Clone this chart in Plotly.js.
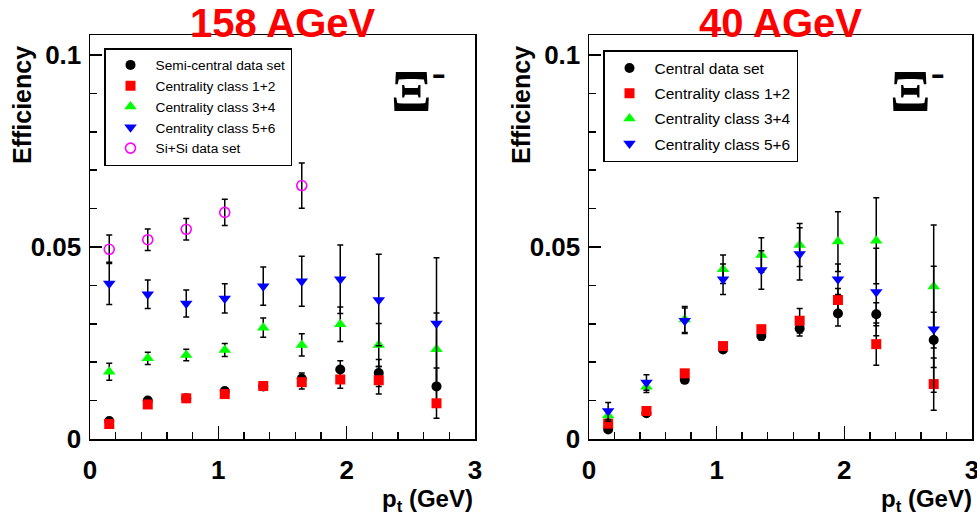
<!DOCTYPE html>
<html>
<head>
<meta charset="utf-8">
<script src="https://cdn.plot.ly/plotly-3.0.1.min.js"></script>
<style>html,body{margin:0;padding:0;background:#fff;}</style>
</head>
<body>
<div id="chart" style="width:977px;height:524px;"></div>
<script>
// ---- data ----
const pt = [0.15, 0.45, 0.75, 1.05, 1.35, 1.65, 1.95, 2.25, 2.7];
const ptSiSi = [0.15, 0.45, 0.75, 1.05, 1.65];

// 158 AGeV
const semiCentral158 = [0.0047, 0.0100, 0.0106, 0.0125, 0.0137, 0.0157, 0.0181, 0.0172, 0.0137];
const semiCentral158Err = [0.0005, 0.0006, 0.0006, 0.0007, 0.0008, 0.0015, 0.0023, 0.0035, 0.0048];
const cls12_158 = [0.0039, 0.0090, 0.0106, 0.0117, 0.0138, 0.0148, 0.0155, 0.0153, 0.0093];
const cls12_158Err = [0.0004, 0.0005, 0.0005, 0.0006, 0.0007, 0.0018, 0.0023, 0.0036, 0.0039];
const cls34_158 = [0.0175, 0.0210, 0.0219, 0.0232, 0.0290, 0.0245, 0.0299, 0.0245, 0.0234];
const cls34_158Err = [0.0022, 0.0016, 0.0015, 0.0017, 0.0025, 0.0029, 0.0045, 0.0056, 0.0094];
const cls56_158 = [0.0405, 0.0377, 0.0353, 0.0366, 0.0398, 0.0411, 0.0416, 0.0362, 0.0301];
const cls56_158Err = [0.0055, 0.0037, 0.0035, 0.0038, 0.0050, 0.0065, 0.0089, 0.0119, 0.0171];
const siSi158 = [0.0494, 0.0519, 0.0546, 0.0590, 0.0660];
const siSi158Err = [0.0037, 0.0028, 0.0028, 0.0034, 0.0059];

// 40 AGeV
const central40 = [0.0025, 0.0067, 0.0154, 0.0233, 0.0268, 0.0288, 0.0327, 0.0325, 0.0258];
const central40Err = [0.0005, 0.0006, 0.0008, 0.0007, 0.0010, 0.0020, 0.0033, 0.0030, 0.0072];
const cls12_40 = [0.0040, 0.0073, 0.0171, 0.0242, 0.0286, 0.0308, 0.0362, 0.0247, 0.0143];
const cls12_40Err = [0.0005, 0.0005, 0.0007, 0.0006, 0.0008, 0.0032, 0.0030, 0.0055, 0.0068];
const cls34_40 = [0.0061, 0.0136, 0.0311, 0.0442, 0.0479, 0.0505, 0.0514, 0.0516, 0.0397];
const cls34_40Err = [0.0015, 0.0015, 0.0034, 0.0037, 0.0045, 0.0056, 0.0078, 0.0112, 0.0160];
const cls56_40 = [0.0073, 0.0147, 0.0308, 0.0416, 0.0440, 0.0482, 0.0416, 0.0383, 0.0286];
const cls56_40Err = [0.0022, 0.0020, 0.0033, 0.0040, 0.0050, 0.0068, 0.0040, 0.0114, 0.0164];

const names158 = ["Semi-central data set", "Centrality class 1+2", "Centrality class 3+4", "Centrality class 5+6", "Si+Si data set"];
const names40 = ["Central data set", "Centrality class 1+2", "Centrality class 3+4", "Centrality class 5+6"];
const panelTitles = ["158 AGeV", "40 AGeV"];

// ---- styles ----
const SANS = "Liberation Sans, Arial, Helvetica, sans-serif";
const styles = [
  {symbol: 'circle', color: '#000000', size: 10},
  {symbol: 'square', color: '#ff0000', size: 10},
  {symbol: 'triangle-up', color: '#00ff00', size: 11},
  {symbol: 'triangle-down', color: '#0000ff', size: 11}
];
const openStyle = {symbol: 'circle-open', color: '#ff00ff', size: 10};

function tr(x, y, err, name, st, xa, ya, leg, grp) {
  return {
    type: 'scatter', mode: 'markers', x: x, y: y, name: name,
    xaxis: xa, yaxis: ya, legend: leg, legendgroup: grp,
    marker: {symbol: st.symbol, color: st.color, size: st.size,
             line: {width: st.symbol === 'circle-open' ? 1.6 : 0, color: st.color}},
    error_y: {type: 'data', array: err, visible: true, color: '#000000', thickness: 1.5, width: 3}
  };
}

const data = [
  tr(pt, semiCentral158, semiCentral158Err, names158[0], styles[0], 'x', 'y', 'legend', 'a1'),
  tr(pt, cls12_158, cls12_158Err, names158[1], styles[1], 'x', 'y', 'legend', 'a2'),
  tr(pt, cls34_158, cls34_158Err, names158[2], styles[2], 'x', 'y', 'legend', 'a3'),
  tr(pt, cls56_158, cls56_158Err, names158[3], styles[3], 'x', 'y', 'legend', 'a4'),
  tr(ptSiSi, siSi158, siSi158Err, names158[4], openStyle, 'x', 'y', 'legend', 'a5'),
  tr(pt, central40, central40Err, names40[0], styles[0], 'x2', 'y2', 'legend2', 'b1'),
  tr(pt, cls12_40, cls12_40Err, names40[1], styles[1], 'x2', 'y2', 'legend2', 'b2'),
  tr(pt, cls34_40, cls34_40Err, names40[2], styles[2], 'x2', 'y2', 'legend2', 'b3'),
  tr(pt, cls56_40, cls56_40Err, names40[3], styles[3], 'x2', 'y2', 'legend2', 'b4')
];

const W = 977, H = 524;
const px = v => v / W;
const py = v => 1 - v / H;

function xax(l, r, anchor) {
  return {
    domain: [px(l), px(r)], range: [0, 3], anchor: anchor,
    showgrid: false, zeroline: false, showline: true, linecolor: '#000', linewidth: 1.5, mirror: true,
    ticks: 'inside', ticklen: 13, tickwidth: 1.5, tickcolor: '#000', tick0: 0, dtick: 1,
    minor: {ticks: 'inside', ticklen: 7, tickwidth: 1.5, tickcolor: '#000', dtick: 0.2, showgrid: false},
    tickfont: {family: SANS, size: 26, weight: 'bold', color: '#000'},
    ticklabelstandoff: 7, ticklabeloverflow: 'allow', fixedrange: true
  };
}
function yax(anchor) {
  return {
    domain: [py(439), py(35)], range: [0, 0.1052], anchor: anchor,
    showgrid: false, zeroline: false, showline: true, linecolor: '#000', linewidth: 1.5, mirror: true,
    ticks: 'inside', ticklen: 12, tickwidth: 1.5, tickcolor: '#000', tick0: 0, dtick: 0.05,
    minor: {ticks: 'inside', ticklen: 7, tickwidth: 1.5, tickcolor: '#000', dtick: 0.01, showgrid: false},
    tickfont: {family: SANS, size: 26, weight: 'bold', color: '#000'},
    ticklabelstandoff: 2, ticklabeloverflow: 'allow', fixedrange: true
  };
}

function leg(x, top, size, gap) {
  return {
    x: px(x), y: py(top), xanchor: 'left', yanchor: 'top', xref: 'paper', yref: 'paper',
    bgcolor: '#fff', bordercolor: '#000', borderwidth: 1.5,
    font: {family: SANS, size: size, color: '#000'},
    itemwidth: 40, traceorder: 'grouped', tracegroupgap: gap, itemclick: false, itemdoubleclick: false
  };
}

const ann = [];
function addPanelText(cx, right, effX, xiX, title) {
  ann.push({text: title, x: px(cx), y: py(23), xref: 'paper', yref: 'paper', xanchor: 'center', yanchor: 'middle',
            showarrow: false, font: {family: SANS, size: 40, weight: 'bold', color: '#ff0000'}});
  ann.push({text: 'Efficiency', textangle: -90, x: px(effX), y: py(105), xref: 'paper', yref: 'paper',
            xanchor: 'center', yanchor: 'middle', showarrow: false,
            font: {family: SANS, size: 25, weight: 'bold', color: '#000'}});
  ann.push({text: 'p<sub>t</sub> (GeV)', x: px(right), y: py(500), xref: 'paper', yref: 'paper',
            xanchor: 'right', yanchor: 'middle', showarrow: false,
            font: {family: SANS, size: 24, weight: 'bold', color: '#000'}});
  ann.push({text: 'Ξ<sup>-</sup>', x: px(xiX), y: py(86), xref: 'paper', yref: 'paper',
            xanchor: 'left', yanchor: 'middle', showarrow: false,
            font: {family: 'Liberation Serif, DejaVu Serif, serif', size: 60, weight: 'bold', color: '#000'}});
}
addPanelText(282.5, 475, 22, 389, panelTitles[0]);
addPanelText(780.5, 974, 521, 888, panelTitles[1]);

const layout = {
  width: W, height: H,
  margin: {l: 0, r: 0, t: 0, b: 0},
  paper_bgcolor: '#fff', plot_bgcolor: '#fff',
  font: {family: SANS, color: '#000'},
  showlegend: true,
  xaxis: xax(90, 475, 'y'),
  yaxis: yax('x'),
  xaxis2: xax(589, 972, 'y2'),
  yaxis2: yax('x2'),
  legend: leg(104, 48, 13.7, 0),
  legend2: leg(603, 50, 15.5, 2),
  annotations: ann
};

Plotly.newPlot('chart', data, layout, {displayModeBar: false, staticPlot: true});
</script>
</body>
</html>
